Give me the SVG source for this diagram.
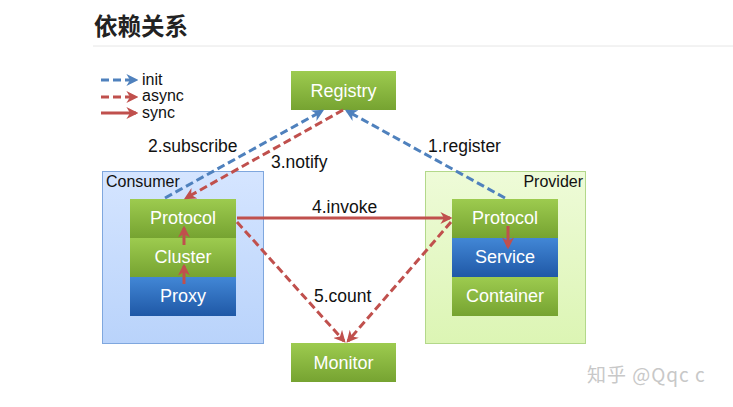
<svg xmlns="http://www.w3.org/2000/svg" width="733" height="407" viewBox="0 0 733 407">
<style>
text{font-family:"Liberation Sans",Arial,sans-serif}
.lbl{font-size:17.5px;fill:#111}
.leg{font-size:16px;fill:#111}
.btxt{font-size:18px;fill:#fff;text-anchor:middle}
.ctr{font-size:16px;fill:#111}
.blue{stroke:#4f81bd;stroke-width:3;fill:none;stroke-dasharray:8 4}
.redd{stroke:#c0504d;stroke-width:3;fill:none;stroke-dasharray:8 4}
.reds{stroke:#c0504d;stroke-width:3;fill:none}
</style>
<defs>
<linearGradient id="g" x1="0" y1="0" x2="0" y2="1"><stop offset="0" stop-color="#9dcb4f"/><stop offset="1" stop-color="#76a331"/></linearGradient>
<linearGradient id="b" x1="0" y1="0" x2="0" y2="1"><stop offset="0" stop-color="#4287d6"/><stop offset="1" stop-color="#1f58a6"/></linearGradient>
<linearGradient id="cb" x1="0" y1="0" x2="0" y2="1"><stop offset="0" stop-color="#d5e5ff"/><stop offset="1" stop-color="#b9d3fb"/></linearGradient>
<linearGradient id="pb" x1="0" y1="0" x2="0" y2="1"><stop offset="0" stop-color="#eefbd8"/><stop offset="1" stop-color="#dcf5b4"/></linearGradient>
<marker id="ab" viewBox="0 0 10 10" refX="8" refY="5" markerWidth="4" markerHeight="4" orient="auto"><path d="M0,0L10,5L0,10L3,5z" fill="#4f81bd"/></marker>
<marker id="ar" viewBox="0 0 10 10" refX="8" refY="5" markerWidth="4" markerHeight="4" orient="auto"><path d="M0,0L10,5L0,10L3,5z" fill="#c0504d"/></marker>
</defs>
<rect width="733" height="407" fill="#fff"/>
<g id="title">
<text x="94" y="35" font-size="23.5" font-weight="bold" fill="#222" style="font-family:'Noto Sans CJK SC',sans-serif">依赖关系</text>
<line x1="93" y1="46" x2="733" y2="46" stroke="#e6e6e6" stroke-width="1"/>
</g>
<g id="legend">
<line x1="101" y1="80" x2="136" y2="80" class="blue" marker-end="url(#ab)"/>
<line x1="101" y1="97" x2="136" y2="97" class="redd" marker-end="url(#ar)"/>
<line x1="101" y1="113" x2="136" y2="113" class="reds" marker-end="url(#ar)"/>
<text x="142" y="85" class="leg">init</text>
<text x="142" y="101" class="leg">async</text>
<text x="142" y="118" class="leg">sync</text>
</g>
<g id="consumer">
<rect x="102.5" y="171.5" width="161" height="172" fill="url(#cb)" stroke="#7fa7de"/>
<text x="106" y="187" class="ctr">Consumer</text>
</g>
<g id="provider">
<rect x="425.5" y="171.5" width="160" height="172" fill="url(#pb)" stroke="#b3d88a"/>
<text x="583" y="187" class="ctr" text-anchor="end">Provider</text>
</g>
<g id="registry">
<rect x="291" y="71" width="105" height="39" fill="url(#g)"/>
<text x="343.5" y="97" class="btxt">Registry</text>
</g>
<g id="monitor">
<rect x="291" y="343" width="105" height="39" fill="url(#g)"/>
<text x="343.5" y="369" class="btxt">Monitor</text>
</g>
<g id="c-protocol"><rect x="130" y="199" width="106" height="39" fill="url(#g)"/><text x="183" y="224" class="btxt">Protocol</text></g>
<g id="c-cluster"><rect x="130" y="238" width="106" height="39" fill="url(#g)"/><text x="183" y="263" class="btxt">Cluster</text></g>
<g id="c-proxy"><rect x="130" y="277" width="106" height="39" fill="url(#b)"/><text x="183" y="302" class="btxt">Proxy</text></g>
<g id="p-protocol"><rect x="452" y="199" width="106" height="39" fill="url(#g)"/><text x="505" y="224" class="btxt">Protocol</text></g>
<g id="p-service"><rect x="452" y="238" width="106" height="39" fill="url(#b)"/><text x="505" y="263" class="btxt">Service</text></g>
<g id="p-container"><rect x="452" y="277" width="106" height="39" fill="url(#g)"/><text x="505" y="302" class="btxt">Container</text></g>
<g id="connectors">
<line x1="505" y1="198" x2="347" y2="111" class="blue" marker-end="url(#ab)"/>
<line x1="165" y1="198" x2="322" y2="111" class="blue" marker-end="url(#ab)"/>
<line x1="343" y1="110" x2="186" y2="198" class="redd" marker-end="url(#ar)"/>
<line x1="237" y1="218" x2="450" y2="218" class="reds" marker-end="url(#ar)"/>
<line x1="237" y1="222" x2="344" y2="341" class="redd" marker-end="url(#ar)"/>
<line x1="451" y1="222" x2="348" y2="341" class="redd" marker-end="url(#ar)"/>
<line x1="184" y1="245" x2="184" y2="228" class="reds" marker-end="url(#ar)"/>
<line x1="184" y1="284" x2="184" y2="266" class="reds" marker-end="url(#ar)"/>
<line x1="508" y1="226" x2="508" y2="247" class="reds" marker-end="url(#ar)"/>
</g>
<g id="labels">
<text x="428" y="152" class="lbl">1.register</text>
<text x="148" y="152" class="lbl">2.subscribe</text>
<text x="271" y="168" class="lbl">3.notify</text>
<text x="312" y="213" class="lbl">4.invoke</text>
<text x="314" y="302" class="lbl">5.count</text>
</g>
<text x="587" y="382" font-size="19" letter-spacing="1" fill="#c8c8c8" style="font-family:'Noto Sans CJK SC',sans-serif">知乎 @Qqc c</text>
</svg>
